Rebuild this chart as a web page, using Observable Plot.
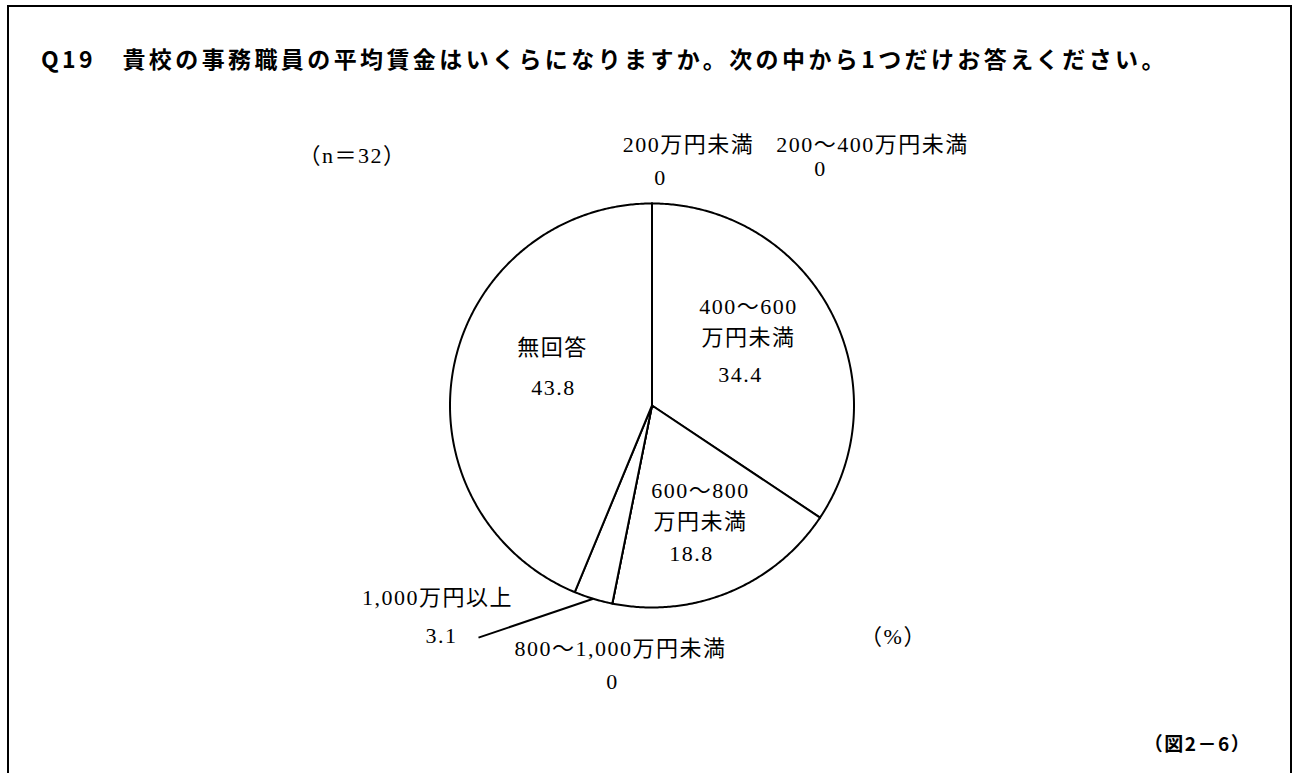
<!DOCTYPE html>
<html>
<head>
<meta charset="utf-8">
<script src="https://cdn.jsdelivr.net/npm/d3@7"></script>
<script src="https://cdn.jsdelivr.net/npm/@observablehq/plot@0.6"></script>
<style>
html, body { margin: 0; padding: 0; overflow: hidden; background: #fff; width: 1294px; height: 773px; }
#frame { position: absolute; left: 7px; top: 5px; width: 1281px; height: 900px; border: 2px solid #000; }
#title { position: absolute; left: 41px; top: 43px; font-family: "Noto Sans CJK JP", sans-serif; font-weight: 700;
         font-size: 23px; line-height: 30px; letter-spacing: 3.4px; white-space: nowrap; color: #000; }
#chart { position: absolute; left: 0; top: 0; }
#chart svg text { letter-spacing: 1.5px; }
</style>
</head>
<body>
<div id="frame"></div>
<div id="chart"></div>
<div id="title"></div>
<script>
// ---- data ----
const categories = ["200万円未満", "200〜400万円未満", "400〜600万円未満", "600〜800万円未満", "800〜1,000万円未満", "1,000万円以上", "無回答"];
const displayNames = ["200万円未満", "200〜400万円未満", "400〜600\n万円未満", "600〜800\n万円未満", "800〜1,000万円未満", "1,000万円以上", "無回答"];
const values = [0, 0, 34.4, 18.8, 0, 3.1, 43.8];
const titleText = "Q19　貴校の事務職員の平均賃金はいくらになりますか。次の中から1つだけお答えください。";
const sampleNote = "（n＝32）";
const unitNote = "（%）";
const figureNo = "（図2－6）";

// ---- layout (label positions in units of the pie radius, y up) ----
const labelLayout = {
  "200万円未満":        { nx: 0.181, ny: 1.302, vx: 0.042, vy: 1.124 },
  "200〜400万円未満":   { nx: 1.091, ny: 1.302, vx: 0.834, vy: 1.173 },
  "400〜600万円未満":   { nx: 0.478, ny: 0.426, vx: 0.438, vy: 0.153 },
  "600〜800万円未満":   { nx: 0.240, ny: -0.485, vx: 0.196, vy: -0.733 },
  "800〜1,000万円未満": { nx: -0.156, ny: -1.193, vx: -0.196, vy: -1.371 },
  "1,000万円以上":      { nx: -1.062, ny: -0.941, vx: -1.042, vy: -1.139, lx: -0.859, ly: -1.149 },
  "無回答":             { nx: -0.493, ny: 0.297, vx: -0.488, vy: 0.089 }
};

const R = 202, cx = 651.5, cy = 405;
const serif = '"Liberation Serif", "Noto Sans CJK JP", serif';
const gothic = '"Noto Sans CJK JP", sans-serif';

document.getElementById("title").textContent = titleText;

const rows = categories.map((c, i) => ({ cat: c, name: displayNames[i], value: values[i] }));
const arcs = d3.pie().sort(null).value(d => d.value)(rows);

// slice outlines as closed polygons (unit circle coordinates, y up)
const slicePoints = [];
for (const a of arcs) {
  const cat = a.data.cat;
  slicePoints.push({ cat, x: 0, y: 0 });
  const n = Math.max(1, Math.ceil((a.endAngle - a.startAngle) / (Math.PI / 360)));
  for (let k = 0; k <= n; k++) {
    const t = a.startAngle + (a.endAngle - a.startAngle) * k / n;
    slicePoints.push({ cat, x: Math.sin(t), y: Math.cos(t) });
  }
  slicePoints.push({ cat, x: 0, y: 0 });
}

const labelRows = arcs.map(a => {
  const L = labelLayout[a.data.cat];
  return { ...L, name: a.data.name, val: String(a.data.value), mid: (a.startAngle + a.endAngle) / 2 };
});
const leaders = labelRows.filter(d => d.lx !== undefined).map(d => ({
  x1: Math.sin(d.mid), y1: Math.cos(d.mid), x2: d.lx, y2: d.ly
}));

const chart = Plot.plot({
  width: 1294,
  height: 773,
  margin: 0,
  x: { domain: [-1, 1], range: [cx - R, cx + R], axis: null },
  y: { domain: [-1, 1], range: [cy + R, cy - R], axis: null },
  style: { background: "transparent", overflow: "visible" },
  marks: [
    Plot.line(slicePoints, { x: "x", y: "y", z: "cat", fill: "white", stroke: "black", strokeWidth: 2, strokeLinejoin: "round" }),
    Plot.link(leaders, { x1: "x1", y1: "y1", x2: "x2", y2: "y2", stroke: "black", strokeWidth: 2 }),
    Plot.text(labelRows, { x: "nx", y: "ny", text: "name", fontFamily: serif, fontSize: 22, lineHeight: 1.4, fill: "black" }),
    Plot.text(labelRows, { x: "vx", y: "vy", text: "val", fontFamily: serif, fontSize: 22, fill: "black" }),
    Plot.text([sampleNote], { frameAnchor: "top-left", textAnchor: "middle", dx: 352, dy: 147, text: d => d, fontFamily: serif, fontSize: 22, fill: "black" }),
    Plot.text([unitNote], { frameAnchor: "top-left", textAnchor: "middle", dx: 893, dy: 628, text: d => d, fontFamily: serif, fontSize: 22, fill: "black" }),
    Plot.text([figureNo], { frameAnchor: "top-left", textAnchor: "middle", dx: 1197, dy: 737, text: d => d, fontFamily: gothic, fontWeight: 700, fontSize: 19, fill: "black" })
  ]
});
document.getElementById("chart").appendChild(chart);
</script>
</body>
</html>
